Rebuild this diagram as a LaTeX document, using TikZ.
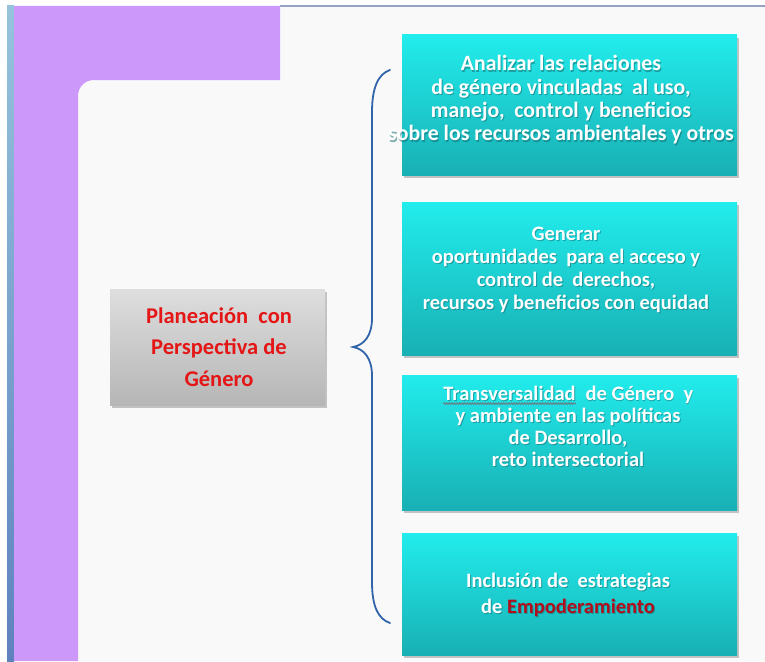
\documentclass[tikz,border=0pt]{standalone}
\usepackage{fontspec}
\setmainfont{Carlito}
\usetikzlibrary{shadows,decorations.pathmorphing}
\definecolor{purp}{RGB}{204,153,250}
\definecolor{stripblue}{RGB}{95,130,190}
\definecolor{striplight}{RGB}{150,195,220}
\definecolor{pagebg}{RGB}{249,249,249}
\definecolor{topline}{RGB}{150,160,195}
\definecolor{cyantop}{RGB}{34,236,236}
\definecolor{cyanbot}{RGB}{24,176,180}
\definecolor{graytop}{RGB}{222,222,222}
\definecolor{graybot}{RGB}{182,182,182}
\definecolor{bracec}{RGB}{50,100,170}
\definecolor{redtxt}{RGB}{228,22,22}
\definecolor{darkred}{RGB}{178,14,28}
\definecolor{wavec}{RGB}{105,125,135}
\definecolor{tshadow}{RGB}{20,110,115}
\newcommand\graywave[1]{\tikz[baseline=(w.base)]{\node[inner sep=0pt] (w) {#1};
  \draw[wavec, line width=0.9pt, decorate, decoration={snake, amplitude=0.9pt, segment length=2.6pt}]
  ([yshift=-3.5pt]w.base west) -- ([yshift=-3.5pt]w.base east);}}
\newcommand\plainword[1]{#1}
\begin{document}
\begin{tikzpicture}[x=1pt,y=-1pt,
  cbox/.style={draw=none, top color=cyantop, bottom color=cyanbot,
    minimum width=335pt, minimum height=#1, inner sep=0pt,
    drop shadow={opacity=0.45, shadow xshift=2pt, shadow yshift=-3pt}},
  gbox/.style={draw=none, top color=graytop, bottom color=graybot,
    minimum width=215pt, minimum height=116pt, inner sep=0pt,
    drop shadow={opacity=0.45, shadow xshift=2pt, shadow yshift=-3pt}},
  ctext/.style={text=white, align=center, inner sep=0pt,
    font=\fontsize{20.5}{23}\selectfont\bfseries},
  cshadow/.style={ctext, text=tshadow, text opacity=0.55, xshift=1pt, yshift=-1.2pt},
  gtext/.style={text=redtxt, align=center, inner sep=0pt,
    font=\fontsize{22.5}{31.5}\selectfont\bfseries},
  bracestyle/.style={draw=bracec, line width=1.8pt, line cap=round}
]
\useasboundingbox (0,0) rectangle (765,661);
% background
\fill[white] (0,0) rectangle (765,661);
\fill[pagebg] (7,6) rectangle (765,661);
\shade[top color=striplight, bottom color=stripblue] (7,6) rectangle (14,661);
\fill[purp] (14,6) -- (280,6) -- (280,80) -- (94,80)
  .. controls (85,80) and (78,87) .. (78,96) -- (78,661) -- (14,661) -- cycle;
\draw[topline, line width=2pt] (280,6) -- (765,6);

% boxes
\node[cbox=140pt] (b1) at (569.5,105) {};
\node[cbox=153pt] (b2) at (569.5,278.5) {};
\node[cbox=135pt] (b3) at (569.5,442.5) {};
\node[cbox=122pt] (b4) at (569.5,594) {};
\node[gbox] (g) at (217.5,347) {};

% text shadows
\node[cshadow, font=\fontsize{21.8}{23.3}\selectfont\bfseries] (s1) at (561,100) {Analizar las relaciones\\de género vinculadas\ \ al uso,\\manejo,\ \ control y beneficios\\sobre los recursos ambientales y otros};
\node[cshadow] (s2) at (566,270) {Generar\\oportunidades\ \ para el acceso y\\control de\ \ derechos,\\recursos y beneficios con equidad};
\node[cshadow, font=\fontsize{20.5}{22}\selectfont\bfseries] (s3) at (568,426) {Transversalidad\ \ de Género\ \ y\\y ambiente en las políticas\\de Desarrollo,\\reto intersectorial};
\node[cshadow, font=\fontsize{20.5}{26}\selectfont\bfseries] (s4) at (568,595) {Inclusión de\ \ estrategias\\de Empoderamiento};

% texts
\node[ctext, font=\fontsize{21.8}{23.3}\selectfont\bfseries] (t1) at (561,100) {Analizar las relaciones\\de género vinculadas\ \ al uso,\\manejo,\ \ control y beneficios\\sobre los recursos ambientales y otros};
\node[ctext] (t2) at (566,270) {Generar\\oportunidades\ \ para el acceso y\\control de\ \ derechos,\\recursos y beneficios con equidad};
\node[ctext, font=\fontsize{20.5}{22}\selectfont\bfseries] (t3) at (568,426) {\graywave{Transversalidad}\ \ de Género\ \ y\\y ambiente en las políticas\\de Desarrollo,\\reto intersectorial};
\node[ctext, font=\fontsize{20.5}{26}\selectfont\bfseries] (t4) at (568,595) {Inclusión de\ \ estrategias\\de \textcolor{darkred}{Empoderamiento}};
\node[gtext] (gt) at (219,347) {Planeación\ \ con\\Perspectiva de\\Género};

% brace
\coordinate (tip) at (353,347);
\draw[bracestyle] (390,70) .. controls (378,74) and (372,88) .. (372,112)
  -- (372,318) .. controls (372,336) and (364,345) .. (tip)
  .. controls (364,349) and (372,358) .. (372,376)
  -- (372,582) .. controls (372,606) and (378,619) .. (390,623);
\end{tikzpicture}
\end{document}
